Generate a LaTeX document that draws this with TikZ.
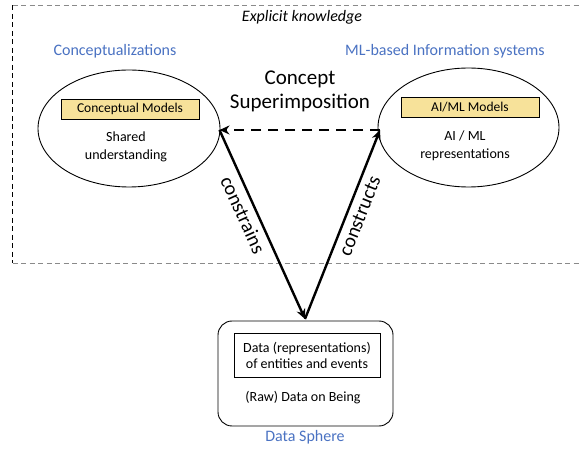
\documentclass[tikz,border=0pt]{standalone}
\usepackage{fontspec}
\setmainfont{Carlito}
\usetikzlibrary{arrows.meta,shapes.geometric}
\definecolor{lblue}{HTML}{4A72C2}
\definecolor{ygold}{HTML}{F7E29A}
\definecolor{dgrey}{HTML}{8A8A8A}
\begin{document}
\begin{tikzpicture}[x=1pt,y=-1pt,
  bluelbl/.style={text=lblue,font=\fontsize{16}{18}\selectfont},
  ell/.style={draw,ellipse,line width=0.9pt},
  ybox/.style={draw,line width=0.8pt,fill=ygold,minimum width=138pt,minimum height=20pt,inner sep=0pt,font=\fontsize{13.5}{15}\selectfont},
  small/.style={align=center,font=\fontsize{14}{18}\selectfont},
  rel/.style={line width=2.4pt,-{Stealth[length=10pt,width=9pt]}},
  rellbl/.style={font=\fontsize{20}{22}\selectfont}]
\useasboundingbox (0,0) rectangle (579,454);
% explicit knowledge region
\draw[dgrey,line width=1pt,dash pattern=on 5pt off 3.5pt] (12.5,5.5) -- (579,5.5);
\draw[dgrey,line width=1pt,dash pattern=on 5pt off 3.5pt] (12.5,263.5) -- (579,263.5);
\draw[black,line width=0.9pt,dash pattern=on 5pt off 3.5pt] (12.5,5.5) -- (12.5,263.5);
\node[font=\itshape\fontsize{16}{18}\selectfont] (ek) at (302,17) {Explicit knowledge};
% labels
\node[bluelbl] (cz) at (115,51) {Conceptualizations};
\node[bluelbl] (mlis) at (445,51) {ML-based Information systems};
% ellipses
\node[ell,minimum width=182pt,minimum height=117pt] (le) at (129,128.5) {};
\node[ell,minimum width=181pt,minimum height=119pt] (re) at (468.5,127.5) {};
\node[ybox] (cm) at (130,109) {Conceptual Models};
\node[ybox] (aim) at (470,107.5) {AI/ML Models};
\node[small] (su) at (126,147) {Shared\\understanding};
\node[small] (air) at (465,146) {AI / ML\\representations};
% data sphere
\node[draw,rounded corners=14pt,line width=0.9pt,minimum width=175pt,minimum height=105pt] (ds) at (305.5,373.5) {};
\node[draw,line width=0.8pt,minimum width=146pt,minimum height=44pt,align=center,inner sep=0pt,font=\fontsize{14}{16}\selectfont] (dr) at (307,355) {Data (representations)\\of entities and events};
\node[small] (raw) at (303,398) {(Raw) Data on Being};
\node[bluelbl] (dsl) at (305,437) {Data Sphere};
% concept superimposition
\node[align=center,font=\fontsize{21}{24}\selectfont] (cs) at (300,91) {Concept\\Superimposition};
% connectors
\coordinate (lp) at (219.5,130);
\coordinate (rp) at (380,130);
\coordinate (bp) at (305,319);
\draw[rel,dash pattern=on 10pt off 7pt] (rp) -- (lp);
\draw[rel] (lp) -- node[pos=0.42,sloped,below=2pt,rellbl]{constrains} (bp);
\draw[rel] (bp) -- node[pos=0.57,sloped,below=2pt,rellbl]{constructs} (rp);
\end{tikzpicture}
\end{document}
